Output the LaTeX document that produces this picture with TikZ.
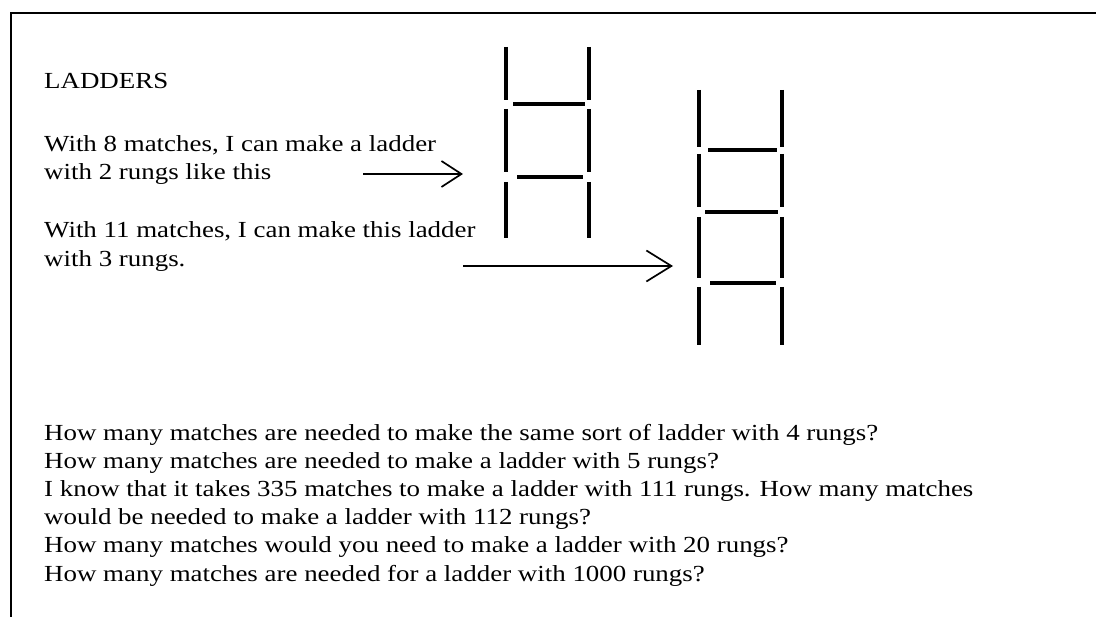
\documentclass[tikz,border=0pt]{standalone}
\usepackage{fontspec}
\setmainfont{Liberation Serif}[FakeStretch=1.17]
\usepackage{tikz}
\usetikzlibrary{arrows.meta, positioning, calc}

\begin{document}
\begin{tikzpicture}[
    x=1pt, y=-1pt,
    txt/.style={anchor=base west, inner sep=0pt, font=\fontsize{23}{28}\selectfont},
    match/.style={line width=3.4pt, black},
    arrow/.style={-{Straight Barb[length=#1]}, line width=1.7pt},
    arrow/.default={20pt,width=26pt}
]
    \useasboundingbox (0,0) rectangle (1096,617);

    % frame
    \draw[line width=2.4pt] (11,617) -- (11,13) -- (1096,13);

    % text at the top
    \node[txt] (title) at (44,89) {LADDERS};
    \node[txt] (eight) at (44,152) {With 8 matches, I can make a ladder};
    \node[txt] (eightb) at (44,180) {with 2 rungs like this};
    \node[txt] (eleven) at (44,238) {With 11 matches, I can make this ladder};
    \node[txt] (elevenb) at (44,267) {with 3 rungs.};

    % ladder with 2 rungs
    \foreach \ya/\yb in {47/100, 109/172, 182/238} {
        \draw[match] (506,\ya) -- (506,\yb);
        \draw[match] (589,\ya) -- (589,\yb);
    }
    \foreach \y/\xa/\xb in {104/513/585, 177/517/583}
        \draw[match] (\xa,\y) -- (\xb,\y);

    % ladder with 3 rungs
    \foreach \ya/\yb in {90/147, 154/207, 217/278, 287/345} {
        \draw[match] (699,\ya) -- (699,\yb);
        \draw[match] (782,\ya) -- (782,\yb);
    }
    \foreach \y/\xa/\xb in {150/708/777, 212/705/778, 283/710/776}
        \draw[match] (\xa,\y) -- (\xb,\y);

    % arrows
    \coordinate (tailA) at (363,174);
    \coordinate (tipA) at (463,174);
    \coordinate (tailB) at (463,266);
    \coordinate (tipB) at (673,266);
    \draw[arrow] (tailA) -- (tipA);
    \draw[arrow={25pt,width=31pt}] (tailB) -- (tipB);

    % questions
    \node[txt] (qa) at (44,441) {How many matches are needed to make the same sort of ladder with 4 rungs?};
    \node[txt] (qb) at (44,469) {How many matches are needed to make a ladder with 5 rungs?};
    \node[txt] (qc) at (44,497) {I know that it takes 335 matches to make a ladder with 111 rungs. How many matches};
    \node[txt] (qd) at (44,525) {would be needed to make a ladder with 112 rungs?};
    \node[txt] (qe) at (44,553) {How many matches would you need to make a ladder with 20 rungs?};
    \node[txt] (qf) at (44,582) {How many matches are needed for a ladder with 1000 rungs?};
\end{tikzpicture}
\end{document}
